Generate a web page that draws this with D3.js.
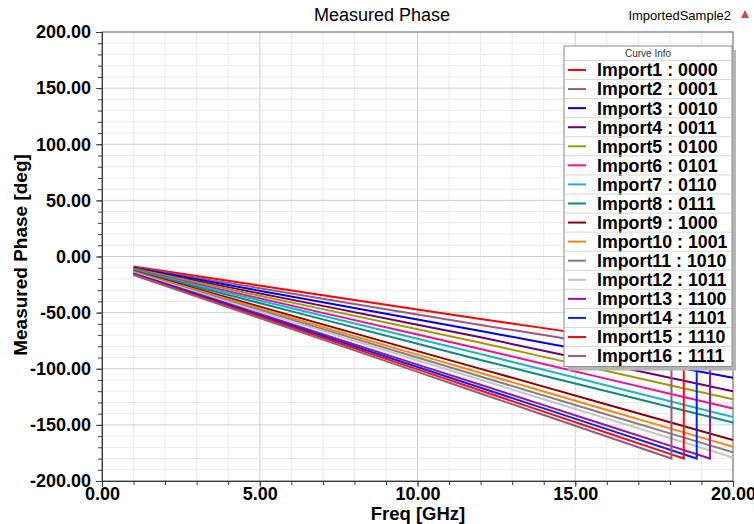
<!DOCTYPE html>
<html>
<head>
<meta charset="utf-8">
<script src="https://cdn.jsdelivr.net/npm/d3@7"></script>
<style>
  body { margin: 0; background: #fff; }
  svg { display: block; font-family: "Liberation Sans", Arial, sans-serif; }
</style>
</head>
<body>
<div id="chart"></div>
<script>
// Curve names / colours as in the "Curve Info" legend
const curveNames = [
  "Import1 : 0000", "Import2 : 0001", "Import3 : 0010", "Import4 : 0011",
  "Import5 : 0100", "Import6 : 0101", "Import7 : 0110", "Import8 : 0111",
  "Import9 : 1000", "Import10 : 1001", "Import11 : 1010", "Import12 : 1011",
  "Import13 : 1100", "Import14 : 1101", "Import15 : 1110", "Import16 : 1111"
];
const curveColors = [
  "#ff0000", "#9a5a80", "#0000e6", "#6e006e",
  "#9c9c00", "#f0109a", "#22b2c8", "#0a8a80",
  "#8a0000", "#ff8412", "#808080", "#c4c4c4",
  "#9a10a8", "#0a22e8", "#ff0a0a", "#9a5a80"
];

// [freq GHz, phase deg]
const import1  = [[1,-9],[4,-21.7],[7,-34.5],[10,-47.2],[12,-55.7],[14,-63.8],[16,-71.9],[18,-79.9],[20,-88]];
const import2  = [[1,-9.5],[4,-23.5],[7,-37.6],[10,-51.6],[12,-61],[14,-70],[16,-79],[18,-88],[20,-97]];
const import3  = [[1,-10],[4,-25.4],[7,-40.8],[10,-56.1],[12,-66.4],[14,-76.8],[16,-87.2],[18,-97.6],[20,-108]];
const import4  = [[1,-10.5],[4,-27.3],[7,-44],[10,-60.8],[12,-72],[14,-84],[16,-96],[18,-108],[20,-120]];
const import5  = [[1,-11],[4,-29],[7,-46.9],[10,-64.8],[12,-76.8],[14,-89.4],[16,-102],[18,-114.7],[20,-127.3]];
const import6  = [[1,-11.5],[4,-30.9],[7,-50.2],[10,-69.5],[12,-82.4],[14,-95.7],[16,-109],[18,-122.2],[20,-135.5]];
const import7  = [[1,-12],[4,-32.4],[7,-52.8],[10,-73.3],[12,-86.9],[14,-100.9],[16,-115],[18,-129],[20,-143]];
const import8  = [[1,-12.5],[4,-34.3],[7,-56],[10,-77.7],[12,-92.2],[14,-106.2],[16,-120.1],[18,-134],[20,-148]];
const import9  = [[1,-13],[4,-36.8],[7,-60.5],[10,-84.3],[12,-100.1],[14,-115.9],[16,-131.8],[18,-147.6],[20,-163.5]];
const import10 = [[1,-13.5],[4,-38.1],[7,-62.8],[10,-87.4],[12,-103.8],[14,-120.2],[16,-136.7],[18,-153.1],[20,-169.5]];
const import11 = [[1,-14],[4,-39.3],[7,-64.7],[10,-90],[12,-106.9],[14,-123.8],[16,-140.7],[18,-157.6],[20,-174.5]];
const import12 = [[1,-14.5],[4,-40.5],[7,-66.5],[10,-92.4],[12,-109.8],[14,-127.1],[16,-144.4],[18,-161.7],[20,-179]];
const import13 = [[1,-15],[4,-42.1],[7,-69.2],[10,-96.3],[12,-114.3],[14,-132.4],[16,-150.5],[18,-168.5],[19.27,-180],[19.27,180],[20,173.1]];
const import14 = [[1,-15.5],[4,-43.2],[7,-70.8],[10,-98.5],[12,-116.9],[14,-135.3],[16,-153.8],[18,-172.2],[18.85,-180],[18.85,180],[20,169.1]];
const import15 = [[1,-16],[4,-44.2],[7,-72.4],[10,-100.6],[12,-119.4],[14,-138.2],[16,-157],[18,-175.8],[18.44,-180],[18.44,180],[20,165]];
const import16 = [[1,-16.5],[4,-45.3],[7,-74.1],[10,-102.8],[12,-122],[14,-141.2],[16,-160.4],[18,-179.5],[18.05,-180],[18.05,180],[20,161.3]];
const curves = [import1, import2, import3, import4, import5, import6, import7, import8,
                import9, import10, import11, import12, import13, import14, import15, import16];

const xMajor = [0, 5, 10, 15, 20];
const yMajor = [200, 150, 100, 50, 0, -50, -100, -150, -200];

const W = 754, H = 524;
const plot = {left: 102, right: 733, top: 32, bottom: 481};

const svg = d3.select("#chart").append("svg")
  .attr("width", W)
  .attr("height", H);

const x = d3.scaleLinear().domain([0, 20]).range([plot.left, plot.right]);
const y = d3.scaleLinear().domain([-200, 200]).range([plot.bottom, plot.top]);

// grid: minor every 1 GHz / 10 deg, major every 5 GHz / 50 deg
const grid = svg.append("g");
grid.selectAll(".vx").data(d3.range(1, 20)).enter().append("line")
  .attr("x1", d => x(d)).attr("x2", d => x(d))
  .attr("y1", plot.top).attr("y2", plot.bottom)
  .attr("stroke", d => d % 5 === 0 ? "#cfcfcf" : "#ebebeb")
  .attr("stroke-width", 1);
grid.selectAll(".hy").data(d3.range(-190, 200, 10)).enter().append("line")
  .attr("y1", d => y(d)).attr("y2", d => y(d))
  .attr("x1", plot.left).attr("x2", plot.right)
  .attr("stroke", d => d % 50 === 0 ? "#cfcfcf" : "#ebebeb")
  .attr("stroke-width", 1);

// frame
svg.append("rect")
  .attr("x", plot.left).attr("y", plot.top)
  .attr("width", plot.right - plot.left).attr("height", plot.bottom - plot.top)
  .attr("fill", "none").attr("stroke", "#5a5a5a").attr("stroke-width", 1);

// axes
const fmt = d => d.toFixed(2);
const yAxisMinor = svg.append("g").attr("transform", `translate(${plot.left},0)`)
  .call(d3.axisLeft(y).tickValues(d3.range(-200, 201, 10)).tickSize(4).tickFormat(""));
const yAxis = svg.append("g").attr("transform", `translate(${plot.left},0)`)
  .call(d3.axisLeft(y).tickValues(yMajor).tickSize(6).tickPadding(5).tickFormat(fmt));
const xAxisMinor = svg.append("g").attr("transform", `translate(0,${plot.bottom})`)
  .call(d3.axisBottom(x).tickValues(d3.range(0, 21, 1)).tickSize(4).tickFormat(""));
const xAxis = svg.append("g").attr("transform", `translate(0,${plot.bottom})`)
  .call(d3.axisBottom(x).tickValues(xMajor).tickSize(6).tickPadding(0).tickFormat(fmt));

[yAxisMinor, yAxis, xAxisMinor, xAxis].forEach(a => {
  a.select(".domain").attr("stroke", "#3a3a3a");
  a.selectAll(".tick line").attr("stroke", "#3a3a3a");
});
[yAxis, xAxis].forEach(a => {
  a.selectAll("text")
    .attr("fill", "#000")
    .style("font-family", "'Liberation Sans', Arial, sans-serif")
    .style("font-size", "18px")
    .style("font-weight", "bold");
});

// curves
svg.append("clipPath").attr("id", "clip").append("rect")
  .attr("x", plot.left).attr("y", plot.top)
  .attr("width", plot.right - plot.left).attr("height", plot.bottom - plot.top);

const line = d3.line().x(d => x(d[0])).y(d => y(d[1]));
svg.append("g").attr("clip-path", "url(#clip)")
  .selectAll("path").data(curves).enter().append("path")
  .attr("d", line)
  .attr("fill", "none")
  .attr("stroke", (d, i) => curveColors[i])
  .attr("stroke-width", 2);

// titles
svg.append("text")
  .attr("x", 382).attr("y", 21)
  .attr("text-anchor", "middle")
  .style("font-size", "18px")
  .text("Measured Phase");

svg.append("text")
  .attr("x", 731).attr("y", 20)
  .attr("text-anchor", "end")
  .style("font-size", "13px")
  .text("ImportedSample2");

svg.append("path")
  .attr("d", "M745,10 L749,18 L741,18 Z")
  .attr("fill", "#d84848");

svg.append("text")
  .attr("x", 418).attr("y", 520)
  .attr("text-anchor", "middle")
  .style("font-size", "18.5px").style("font-weight", "bold")
  .text("Freq [GHz]");

svg.append("text")
  .attr("transform", "translate(27,255) rotate(-90)")
  .attr("text-anchor", "middle")
  .style("font-size", "19px").style("font-weight", "bold")
  .text("Measured Phase [deg]");

// legend "Curve Info"
const lg = {x: 564, y: 46, w: 168, rowH: 19.07, first: 70};
const lgBottom = lg.first + (curveNames.length - 1) * lg.rowH + 10.5;

svg.append("rect")
  .attr("x", lg.x + 4).attr("y", lg.y + 4)
  .attr("width", lg.w).attr("height", lgBottom - lg.y)
  .attr("fill", "#b4b4b4");
svg.append("rect")
  .attr("x", lg.x).attr("y", lg.y)
  .attr("width", lg.w).attr("height", lgBottom - lg.y)
  .attr("fill", "#fff").attr("stroke", "#8a8a8a").attr("stroke-width", 1);

svg.append("text")
  .attr("x", lg.x + lg.w / 2).attr("y", 56.5)
  .attr("text-anchor", "middle")
  .style("font-size", "10px").attr("fill", "#333")
  .text("Curve Info");

const rows = svg.append("g").selectAll("g").data(curveNames).enter().append("g")
  .attr("transform", (d, i) => `translate(0,${lg.first + i * lg.rowH})`);
rows.append("line")
  .attr("x1", lg.x + 1).attr("x2", lg.x + lg.w - 1)
  .attr("y1", -9.5).attr("y2", -9.5)
  .attr("stroke", "#d6d6d6");
rows.append("line")
  .attr("x1", lg.x + 4).attr("x2", lg.x + 22)
  .attr("y1", 0).attr("y2", 0)
  .attr("stroke", (d, i) => curveColors[i])
  .attr("stroke-width", 2);
rows.append("text")
  .attr("x", lg.x + 33).attr("y", 0).attr("dy", "0.36em")
  .style("font-size", "17.8px").style("font-weight", "bold")
  .text(d => d);
</script>
</body>
</html>
